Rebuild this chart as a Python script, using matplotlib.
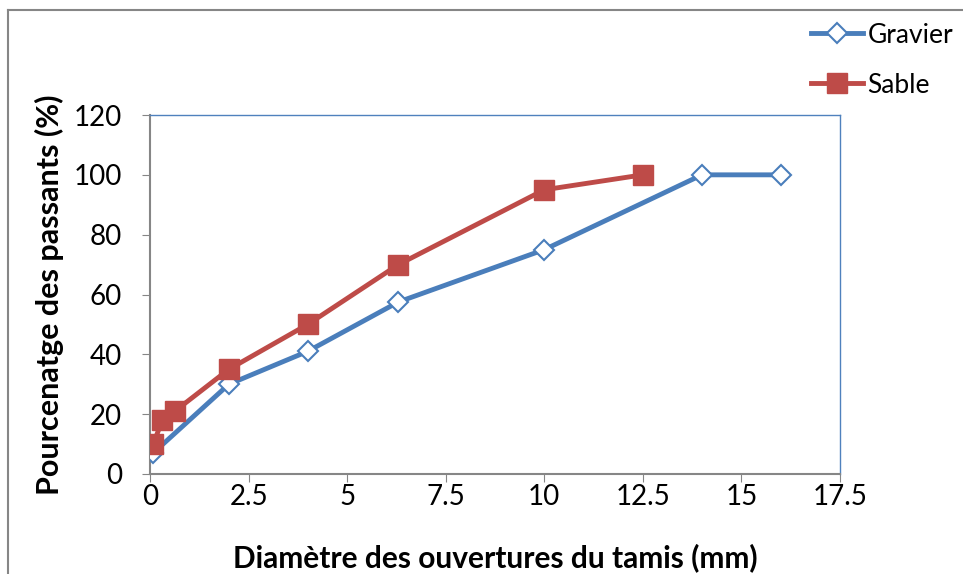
import matplotlib.pyplot as plt
from matplotlib.lines import Line2D

# data
gravier_x = [0.08, 2, 4, 6.3, 10, 14, 16]
gravier_y = [7, 30, 41, 57.5, 75, 100, 100]
sable_x = [0.08, 0.315, 0.63, 2, 4, 6.3, 10, 12.5]
sable_y = [10, 18, 21, 35, 50, 70, 95, 100]
xticks = [0, 2.5, 5, 7.5, 10, 12.5, 15, 17.5]
yticks = [0, 20, 40, 60, 80, 100, 120]

plt.rcParams['font.family'] = ['Lato', 'DejaVu Sans']

fig = plt.figure(figsize=(9.63, 5.74), dpi=100)
ax = fig.add_axes([150/963, 1-474/574, 690/963, 359/574])

ax.plot(gravier_x, gravier_y, color='#4A7EBB', lw=3.5, marker='D', ms=10,
        mfc='white', mec='#4A7EBB', mew=1.5, label='Gravier', zorder=3)
ax.plot(sable_x, sable_y, color='#BE4B48', lw=3.5, marker='s', ms=14,
        mfc='#BE4B48', mec='#BE4B48', label='Sable', zorder=4)

ax.set_xlim(0, 17.5)
ax.set_ylim(0, 120)
ax.set_xticks(xticks)
ax.set_xticklabels([('%g' % t) for t in xticks])
ax.set_yticks(yticks)
ax.tick_params(labelsize=20, length=6, color='#868686', direction='out')
ax.tick_params(axis='x', pad=1)
ax.tick_params(axis='y', pad=14)

for s in ['left', 'bottom']:
    ax.spines[s].set_color('#868686')
    ax.spines[s].set_linewidth(1.5)
for s in ['top', 'right']:
    ax.spines[s].set_color('#4F81BD')
    ax.spines[s].set_linewidth(1)

ax.set_xlabel('Diamètre des ouvertures du tamis (mm)', fontsize=21.5, fontweight='bold', labelpad=24)
ax.set_ylabel('Pourcenatge des passants (%)', fontsize=22, fontweight='bold', labelpad=7)

leg = fig.legend(loc='upper left', bbox_to_anchor=(800/963, 1-12/574), frameon=False,
                 fontsize=19, handlelength=2.0, labelspacing=0.95, handletextpad=0.15,
                 borderaxespad=0)

# outer chart frame
fig.add_artist(Line2D([8/963, 8/963], [0, 1-10/574], color='#868686', lw=1.5))
fig.add_artist(Line2D([8/963, 1], [1-10/574, 1-10/574], color='#868686', lw=1.5))

plt.savefig('out.png', dpi=100)
